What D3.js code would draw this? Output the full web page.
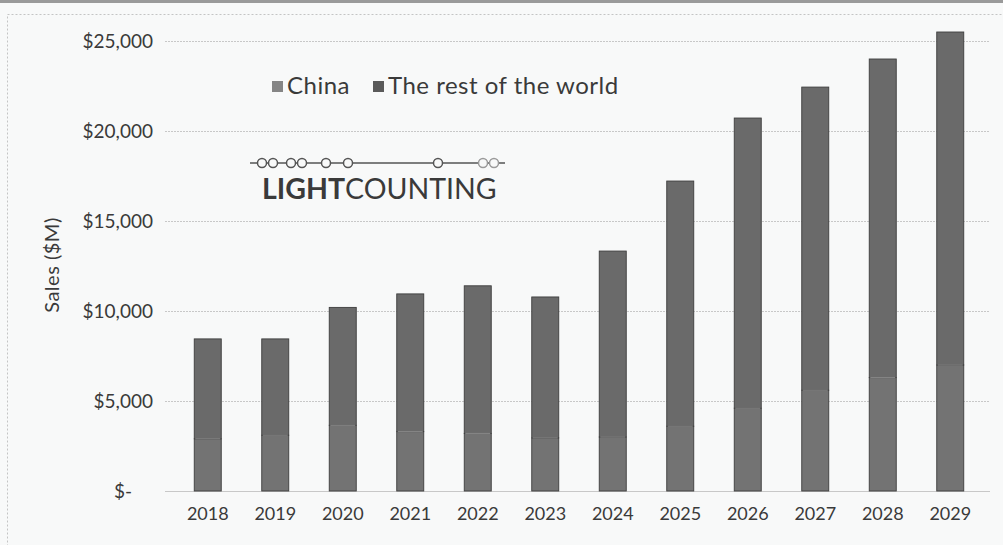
<!DOCTYPE html>
<html>
<head>
<meta charset="utf-8">
<script src="https://cdn.jsdelivr.net/npm/d3@7"></script>
<style>
  html, body { margin: 0; padding: 0; background: #f8f9f9; }
  svg { display: block; }
  text { font-family: Lato, "Open Sans", "DejaVu Sans", sans-serif; fill: #3a3a3a; }
</style>
</head>
<body>
<svg id="chart" width="1003" height="545"></svg>
<script>
const years = ["2018","2019","2020","2021","2022","2023","2024","2025","2026","2027","2028","2029"];
const china = [2900, 3100, 3650, 3300, 3200, 2950, 3000, 3600, 4600, 5600, 6300, 7000];
const restOfWorld = [5550, 5350, 6550, 7650, 8200, 7830, 10330, 13620, 16120, 16840, 17700, 18500];
const seriesNames = ["China", "The rest of the world"];
const yTicks = [0, 5000, 10000, 15000, 20000, 25000];
const yTickLabels = ["$-", "$5,000", "$10,000", "$15,000", "$20,000", "$25,000"];
const logoCircles = [262, 273, 291, 302, 326, 348, 438, 483, 494];

const svg = d3.select("#chart");
const W = 1003, H = 545;

// page frame
svg.append("rect").attr("x", 0).attr("y", 0).attr("width", W).attr("height", 3).attr("fill", "#9a9a9a");
svg.append("rect").attr("x", 7.5).attr("y", 14.5).attr("width", 1000).attr("height", 540)
  .attr("fill", "none").attr("stroke", "#c4c4c4").attr("stroke-dasharray", "2,2");

const x = d3.scaleBand().domain(years).range([174, 984]).paddingInner(0.6).paddingOuter(0.3);
const y = d3.scaleLinear().domain([0, 25000]).range([491, 41]);

// gridlines
svg.append("g").selectAll("line").data(yTicks.filter(d => d > 0)).join("line")
  .attr("x1", 165).attr("x2", 990)
  .attr("y1", d => y(d) + 0.5).attr("y2", d => y(d) + 0.5)
  .attr("stroke", "#c8c8c8").attr("stroke-width", 1).attr("stroke-dasharray", "2,1");

// baseline
svg.append("line").attr("x1", 165).attr("x2", 990).attr("y1", y(0) + 0.5).attr("y2", y(0) + 0.5)
  .attr("stroke", "#c8c8c8").attr("stroke-width", 1.2);

// y axis labels
const yAxis = d3.axisLeft(y).tickValues(yTicks).tickSize(0).tickPadding(0)
  .tickFormat((d, i) => yTickLabels[i]);
const gy = svg.append("g").attr("transform", "translate(153,0)").call(yAxis);
gy.select(".domain").remove();
gy.selectAll("text").attr("font-size", 19).attr("fill", "#333")
  .attr("font-family", "Lato, 'Open Sans', sans-serif")
  .attr("dx", d => d === 0 ? -21 : 0);

// y title
svg.append("text").attr("transform", "translate(59,265) rotate(-90)")
  .attr("text-anchor", "middle").attr("font-size", 20).attr("letter-spacing", 0.5)
  .attr("fill", "#333").text("Sales ($M)");

// x axis labels
const xAxis = d3.axisBottom(x).tickSize(0).tickPadding(0);
const gx = svg.append("g").attr("transform", "translate(0,507)").call(xAxis);
gx.select(".domain").remove();
gx.selectAll("text").attr("font-size", 18).attr("fill", "#333")
  .attr("font-family", "Lato, 'Open Sans', sans-serif");

// stacked bars
const rows = years.map((yr, i) => ({ year: yr, China: china[i], "The rest of the world": restOfWorld[i] }));
const stack = d3.stack().keys(seriesNames)(rows);
const colors = { "China": "#737373", "The rest of the world": "#6a6a6a" };

svg.append("g").selectAll("g").data(stack).join("g")
  .attr("fill", d => colors[d.key])
  .selectAll("rect").data(d => d).join("rect")
  .attr("x", d => x(d.data.year))
  .attr("width", x.bandwidth())
  .attr("y", d => y(d[1]))
  .attr("height", d => y(d[0]) - y(d[1]))
  .attr("stroke", "#3e3e3e").attr("stroke-width", 0.9);

// light separators between stacks
svg.append("g").selectAll("line").data(stack[0]).join("line")
  .attr("x1", d => x(d.data.year) + 1).attr("x2", d => x(d.data.year) + x.bandwidth() - 1)
  .attr("y1", d => y(d[1])).attr("y2", d => y(d[1]))
  .attr("stroke", "#8c8c8c").attr("stroke-width", 1);

// legend
const legend = svg.append("g");
const legendPos = [272, 373];
seriesNames.forEach((name, i) => {
  legend.append("rect").attr("x", legendPos[i]).attr("y", 81).attr("width", 11).attr("height", 11)
    .attr("fill", i === 0 ? "#858585" : "#5a5a5a");
  legend.append("text").attr("x", legendPos[i] + 15).attr("y", 94)
    .attr("font-size", 24).attr("letter-spacing", 0.5).attr("fill", "#333").text(name);
});

// LightCounting logo
const logo = svg.append("g");
logo.append("line").attr("x1", 250).attr("x2", 505).attr("y1", 163).attr("y2", 163)
  .attr("stroke", "#555").attr("stroke-width", 1.5);
logo.selectAll("circle").data(logoCircles).join("circle")
  .attr("cx", d => d).attr("cy", 163).attr("r", 4.5)
  .attr("fill", "#f8f9f9").attr("stroke", (d, i) => i >= 7 ? "#9a9a9a" : "#555").attr("stroke-width", 1.5);
const lt = logo.append("text").attr("x", 262).attr("y", 199).attr("font-size", 28.5)
  .attr("font-family", "'Open Sans', Lato, sans-serif").attr("fill", "#333");
lt.append("tspan").attr("font-weight", "bold").text("LIGHT");
lt.append("tspan").text("COUNTING");
</script>
</body>
</html>
